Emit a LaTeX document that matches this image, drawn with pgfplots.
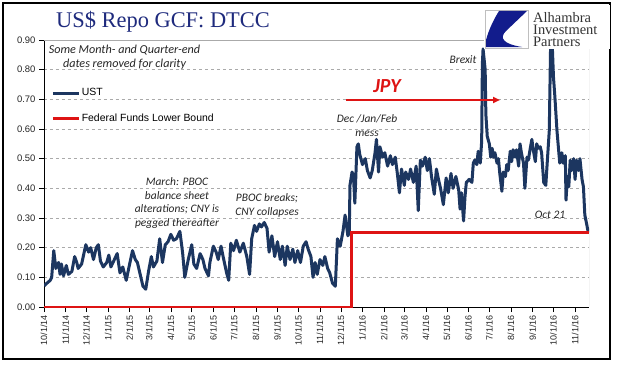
\documentclass[border=0pt]{standalone}
\usepackage{pgfplots}
\pgfplotsset{compat=1.18}
\usepackage{fontspec}
\setmainfont{Liberation Sans}
\newfontfamily\seriffont{Liberation Serif}
\newfontfamily\calfont{Carlito}
\usetikzlibrary{arrows.meta}
\definecolor{ust}{RGB}{28,54,96}
\definecolor{ffred}{RGB}{222,20,20}
\definecolor{titleblue}{RGB}{30,42,125}
\definecolor{logoblue}{RGB}{18,28,140}
\definecolor{gridgray}{RGB}{170,170,170}

\begin{document}
\begin{tikzpicture}[x=1bp,y=1bp]
\path[use as bounding box] (0,0) rectangle (618,381);
\fill[white] (0,0) rectangle (618,381);
\draw[line width=1.3bp] (3,22) rectangle (610,378);

\begin{axis}[at={(44bp,74bp)}, anchor=south west, scale only axis,
  width=545bp, height=267bp,
  xmin=0, xmax=782, ymin=0, ymax=0.9,
  axis lines*=left, axis line style={-, black, line width=0.8bp},
  tick align=outside, major tick length=5bp, tick style={black, line width=0.6bp},
  ytick={0,0.1,0.2,0.3,0.4,0.5,0.6,0.7,0.8,0.9},
  /pgf/number format/fixed, /pgf/number format/fixed zerofill, /pgf/number format/precision=2,
  /pgf/number format/assume math mode=true,
  yticklabel style={font=\fontsize{9.5}{11}\selectfont, text=black!85},
  xtick={0,31,61,92,123,151,182,212,243,273,304,335,365,396,426,457,488,517,548,578,609,639,670,701,731,762},
  xticklabels={10/1/14,11/1/14,12/1/14,1/1/15,2/1/15,3/1/15,4/1/15,5/1/15,6/1/15,7/1/15,8/1/15,9/1/15,10/1/15,11/1/15,12/1/15,1/1/16,2/1/16,3/1/16,4/1/16,5/1/16,6/1/16,7/1/16,8/1/16,9/1/16,10/1/16,11/1/16},
  xticklabel style={rotate=90, anchor=east, font=\fontsize{9}{10}\selectfont, text=black!85},
  ymajorgrids, grid style={dashed, gridgray, line width=0.5bp},
  legend style={at={(0.013,0.824)}, anchor=north west, draw=none, fill=none,
    font=\fontsize{10.5}{12}\selectfont, row sep=13.5bp, inner sep=0pt,
    nodes={inner sep=1.5bp}},
  legend cell align=left,
  legend image code/.code={\draw[#1] (0bp,0bp) -- (26bp,0bp);},
]
\draw[gridgray, line width=0.8bp] (rel axis cs:0,1) -- (rel axis cs:1,1) -- (rel axis cs:1,0);
\addplot[ust, line width=3bp, line join=round] coordinates {
(0,0.071) (4,0.08) (9,0.09) (11,0.10) (14,0.19) (17,0.13) (21,0.15) (23,0.11) (25,0.145) (28,0.105)
(32,0.14) (35,0.11) (40,0.12) (44,0.17) (47,0.15) (49,0.13) (54,0.145) (60,0.21) (64,0.185) (67,0.20)
(71,0.16) (75,0.20) (78,0.21) (81,0.155) (85,0.135) (90,0.15) (93,0.175) (96,0.135) (100,0.155) (105,0.18)
(109,0.115) (113,0.135) (118,0.09) (122,0.135) (127,0.19) (131,0.16) (134,0.15) (138,0.11) (142,0.07) (146,0.06)
(150,0.12) (154,0.17) (157,0.135) (162,0.155) (166,0.23) (170,0.15) (174,0.21) (178,0.22) (182,0.245) (186,0.225)
(190,0.23) (195,0.255) (199,0.18) (202,0.10) (207,0.16) (212,0.21) (215,0.145) (219,0.13) (224,0.18) (228,0.16)
(231,0.13) (236,0.105) (238,0.15) (243,0.205) (247,0.185) (250,0.16) (254,0.205) (257,0.17) (262,0.115) (265,0.09)
(268,0.215) (272,0.19) (276,0.225) (281,0.185) (286,0.215) (291,0.17) (295,0.11) (298,0.23) (302,0.275) (305,0.255)
(309,0.28) (312,0.27) (316,0.285) (320,0.265) (323,0.185) (327,0.24) (331,0.17) (335,0.22) (339,0.16) (342,0.205)
(346,0.14) (349,0.205) (353,0.16) (357,0.195) (360,0.15) (364,0.19) (368,0.15) (372,0.205) (376,0.22) (379,0.195)
(383,0.17) (386,0.10) (389,0.15) (392,0.11) (396,0.16) (400,0.14) (403,0.17) (407,0.13) (410,0.115) (414,0.08)
(418,0.07) (421,0.23) (425,0.205) (429,0.255) (432,0.31) (436,0.24) (438,0.25) (439,0.41) (442,0.455) (444,0.44)
(446,0.35) (449,0.54) (451,0.55) (453,0.515) (457,0.48) (461,0.50) (464,0.46) (468,0.435) (471,0.46) (475,0.52)
(477,0.565) (480,0.455) (482,0.54) (486,0.505) (489,0.52) (493,0.475) (497,0.51) (500,0.48) (504,0.505) (507,0.45)
(510,0.385) (513,0.465) (517,0.41) (519,0.455) (523,0.43) (526,0.465) (530,0.42) (534,0.475) (537,0.325) (540,0.495)
(543,0.475) (547,0.505) (550,0.46) (553,0.50) (556,0.44) (560,0.38) (563,0.465) (566,0.43) (569,0.40) (573,0.345)
(577,0.435) (580,0.385) (584,0.45) (587,0.40) (591,0.44) (595,0.395) (597,0.33) (599,0.385) (602,0.29) (604,0.37)
(606,0.42) (610,0.43) (614,0.42) (616,0.485) (618,0.495) (621,0.48) (623,0.525) (626,0.485) (628,0.56) (629,0.82)
(630,0.87) (633,0.80) (634,0.65) (636,0.575) (639,0.55) (641,0.505) (643,0.535) (645,0.505) (647,0.52) (650,0.485)
(652,0.50) (654,0.45) (657,0.39) (659,0.455) (662,0.44) (664,0.48) (666,0.46) (669,0.525) (671,0.49) (673,0.53)
(676,0.505) (678,0.53) (681,0.475) (683,0.55) (685,0.52) (688,0.485) (690,0.40) (693,0.505) (695,0.495) (697,0.525)
(700,0.565) (702,0.53) (705,0.49) (707,0.55) (709,0.535) (712,0.54) (714,0.52) (717,0.42) (720,0.41) (722,0.485)
(725,0.595) (727,0.90) (729,0.90) (731,0.775) (733,0.71) (736,0.595) (738,0.54) (740,0.485) (743,0.52) (745,0.485)
(748,0.51) (749,0.36) (751,0.44) (753,0.405) (755,0.495) (757,0.46) (760,0.50) (762,0.43) (764,0.495) (767,0.46)
(769,0.50) (772,0.43) (774,0.405) (776,0.31) (779,0.275) (781,0.25)
};
\addlegendentry{UST}
\addplot[ffred, line width=3bp, const plot] coordinates {
(0,0) (441,0) (441,0.25) (782,0.25)
};
\addlegendentry{Federal Funds Lower Bound}
\end{axis}

% title
\node[font=\seriffont\fontsize{22.5}{24}\selectfont, text=titleblue, anchor=base] at (163,354) {US\$ Repo GCF: DTCC};

% note
\node[font=\calfont\itshape\fontsize{12.2}{14}\selectfont, align=center, text=black!85] at (124.5,324) {Some Month- and Quarter-end\\dates removed for clarity};

% annotations
\node[font=\calfont\itshape\fontsize{11.5}{14}\selectfont, align=center, text=black!85] at (177,178) {March: PBOC\\balance sheet\\alterations; CNY is\\pegged thereafter};
\node[font=\calfont\itshape\fontsize{11.5}{14}\selectfont, align=center, text=black!85] at (267,175.5) {PBOC breaks;\\CNY collapses};
\node[font=\calfont\itshape\fontsize{11.5}{14}\selectfont, align=center, text=black!85] at (367,255) {Dec /Jan/Feb\\mess};
\node[font=\calfont\itshape\fontsize{11.5}{14}\selectfont, text=black!85] at (463,321) {Brexit};
\node[font=\calfont\itshape\fontsize{11.5}{14}\selectfont, text=black!85] at (550,166) {Oct 21};
\node[font=\calfont\bfseries\itshape\fontsize{20}{22}\selectfont, text=ffred] at (387,295) {JPY};
\draw[ffred, line width=2bp, -{Triangle[length=7bp,width=6bp]}] (346,281) -- (500,281);

% logo
\fill[white] (484,332) rectangle (610,376);
\draw[gray!50, line width=0.6bp] (485,333) rectangle (528,371);
\fill[logoblue] (499,370) -- (527,370) -- (506,350) .. controls (499,343) and (503,337) .. (522,334) -- (486,334) -- (486,341) .. controls (489,352) and (494,362) .. (499,370) -- cycle;
\node[font=\seriffont\fontsize{14.5}{12}\selectfont, anchor=base west, text=black!80, inner sep=0pt] at (533,358.5) {Alhambra};
\node[font=\seriffont\fontsize{14.5}{12}\selectfont, anchor=base west, text=black!80, inner sep=0pt] at (533,346.5) {Investment};
\node[font=\seriffont\fontsize{14.5}{12}\selectfont, anchor=base west, text=black!80, inner sep=0pt] at (533,334.5) {Partners};
\end{tikzpicture}
\end{document}
